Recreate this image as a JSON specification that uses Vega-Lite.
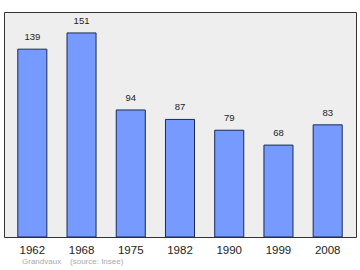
{
  "$schema": "https://vega.github.io/schema/vega-lite/v6.json",
  "width": 352,
  "height": 225,
  "autosize": {"type": "none"},
  "padding": {"left": 4, "top": 12, "right": 4, "bottom": 33},
  "background": "white",
  "config": {
    "view": {"fill": "#eeeeee", "stroke": "#333333", "strokeWidth": 1},
    "font": "Liberation Sans"
  },
  "title": {
    "text": "Grandvaux\u00a0\u00a0\u00a0\u00a0(source: Insee)",
    "orient": "bottom",
    "anchor": "start",
    "fontSize": 8,
    "fontWeight": "normal",
    "color": "#aaaaaa",
    "dx": 18,
    "offset": 2,
    "font": "Liberation Sans"
  },
  "data": {
    "values": [
      {"year": "1962", "pop": 139},
      {"year": "1968", "pop": 151},
      {"year": "1975", "pop": 94},
      {"year": "1982", "pop": 87},
      {"year": "1990", "pop": 79},
      {"year": "1999", "pop": 68},
      {"year": "2008", "pop": 83}
    ]
  },
  "encoding": {
    "x": {
      "field": "year",
      "type": "ordinal",
      "scale": {"paddingInner": 0.41, "paddingOuter": 0.28},
      "axis": {
        "title": null,
        "labelAngle": 0,
        "domain": false,
        "ticks": false,
        "labelPadding": 7,
        "labelFontSize": 11.5,
        "labelColor": "#222222",
        "labelFont": "Liberation Sans"
      }
    },
    "y": {
      "field": "pop",
      "type": "quantitative",
      "scale": {"domain": [0, 166.5], "nice": false},
      "axis": null
    }
  },
  "layer": [
    {
      "mark": {"type": "bar", "fill": "#779aff", "stroke": "#1a2a55", "strokeWidth": 1}
    },
    {
      "mark": {"type": "text", "baseline": "bottom", "dy": -7, "fontSize": 9.5, "color": "#222222", "font": "Liberation Sans"},
      "encoding": {"text": {"field": "pop", "type": "quantitative"}}
    }
  ]
}
